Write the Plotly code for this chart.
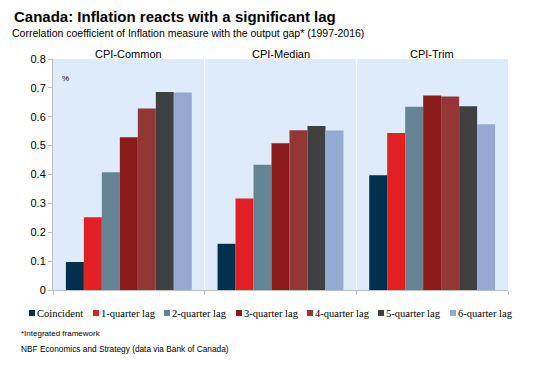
import plotly.graph_objects as go

categories = ["CPI-Common", "CPI-Median", "CPI-Trim"]
series_names = ["Coincident", "1-quarter lag", "2-quarter lag", "3-quarter lag",
                "4-quarter lag", "5-quarter lag", "6-quarter lag"]
coincident = [0.097, 0.160, 0.397]
lag1 = [0.252, 0.317, 0.544]
lag2 = [0.408, 0.434, 0.635]
lag3 = [0.529, 0.508, 0.674]
lag4 = [0.629, 0.553, 0.670]
lag5 = [0.686, 0.568, 0.636]
lag6 = [0.684, 0.552, 0.574]
series_values = [coincident, lag1, lag2, lag3, lag4, lag5, lag6]
colors = ["#00304D", "#E31F26", "#668594", "#8B1B1B", "#943634", "#404040", "#95AAD2"]
tick_vals = [0, 0.1, 0.2, 0.3, 0.4, 0.5, 0.6, 0.7, 0.8]
tick_text = ["0", "0.1", "0.2", "0.3", "0.4", "0.5", "0.6", "0.7", "0.8"]

# page body has an 8px margin; work in screen pixels and convert
OFF = 8
W, H = 538, 378
# plot area in screen pixels
X0, X1, Y0, Y1 = 53, 508, 59, 290
ML, MT = X0 - OFF, Y0 - OFF
MR, MB = W - (X1 - OFF), H - (Y1 - OFF)
PW, PH = X1 - X0, Y1 - Y0


def px(x):
    return (x - X0) / PW


def py(y):
    return (Y1 - y) / PH


fig = go.Figure()
for name, vals, c in zip(series_names, series_values, colors):
    fig.add_trace(go.Bar(x=categories, y=vals, name=name,
                         marker=dict(color=c, line=dict(width=0))))

fig.update_layout(
    width=W, height=H,
    margin=dict(l=ML, r=MR, t=MT, b=MB, autoexpand=False),
    paper_bgcolor="white", plot_bgcolor="#DDEBFB",
    barmode="group", bargap=0.17, bargroupgap=0,
    font=dict(family="Liberation Sans, Arial", size=11, color="#000"),
    showlegend=False,
)
fig.update_xaxes(showticklabels=False, showgrid=False, tickson="boundaries",
                 ticks="outside", ticklen=4, tickcolor="#BFBFBF",
                 showline=True, linecolor="#BFBFBF", linewidth=1, range=[-0.5, 2.5])
fig.update_yaxes(range=[0, 0.8], tickvals=tick_vals, ticktext=tick_text,
                 showgrid=False, ticks="outside", ticklen=4, tickcolor="#BFBFBF",
                 showline=True, linecolor="#BFBFBF", linewidth=1, zeroline=False,
                 tickfont=dict(size=11))

for i in range(1, len(categories)):
    fig.add_shape(type="line", x0=i - 0.5, x1=i - 0.5, y0=0, y1=1, yref="paper",
                  line=dict(color="white", width=1), layer="below")
for cat in categories:
    fig.add_annotation(x=cat, y=py(54), yref="paper", yanchor="middle", text=cat,
                       showarrow=False, font=dict(size=11))

fig.add_annotation(x=px(60), xref="paper", xanchor="left", y=py(79), yref="paper",
                   yanchor="middle", text="%", showarrow=False, font=dict(size=8))

fig.add_annotation(text="<b>Canada: Inflation reacts with a significant lag</b>",
                   x=px(12), xref="paper", xanchor="left", y=py(17), yref="paper",
                   yanchor="middle", showarrow=False, font=dict(size=15))
fig.add_annotation(text="Correlation coefficient of Inflation measure with the output gap* (1997-2016)",
                   x=px(10), xref="paper", xanchor="left", y=py(33), yref="paper",
                   yanchor="middle", showarrow=False, font=dict(size=10.5))
fig.add_annotation(text="*Integrated framework", x=px(19), xref="paper", xanchor="left",
                   y=py(333), yref="paper", yanchor="middle", showarrow=False,
                   font=dict(size=8))
fig.add_annotation(text="NBF Economics and Strategy (data via Bank of Canada)", x=px(19),
                   xref="paper", xanchor="left", y=py(349), yref="paper", yanchor="middle",
                   showarrow=False, font=dict(size=8.3))

# manual legend
leg_x = [29, 93, 164, 236, 307, 378, 450]
leg_y = 313
for name, c, lx in zip(series_names, colors, leg_x):
    fig.add_shape(type="rect", xref="paper", yref="paper",
                  x0=px(lx), x1=px(lx + 6), y0=py(leg_y + 3), y1=py(leg_y - 3),
                  fillcolor=c, line=dict(width=0))
    fig.add_annotation(text=name, x=px(lx + 6), xref="paper", xanchor="left",
                       y=py(leg_y), yref="paper", yanchor="middle", showarrow=False,
                       font=dict(family="Liberation Serif, Times New Roman", size=10.5))

fig.write_html("out.html")
